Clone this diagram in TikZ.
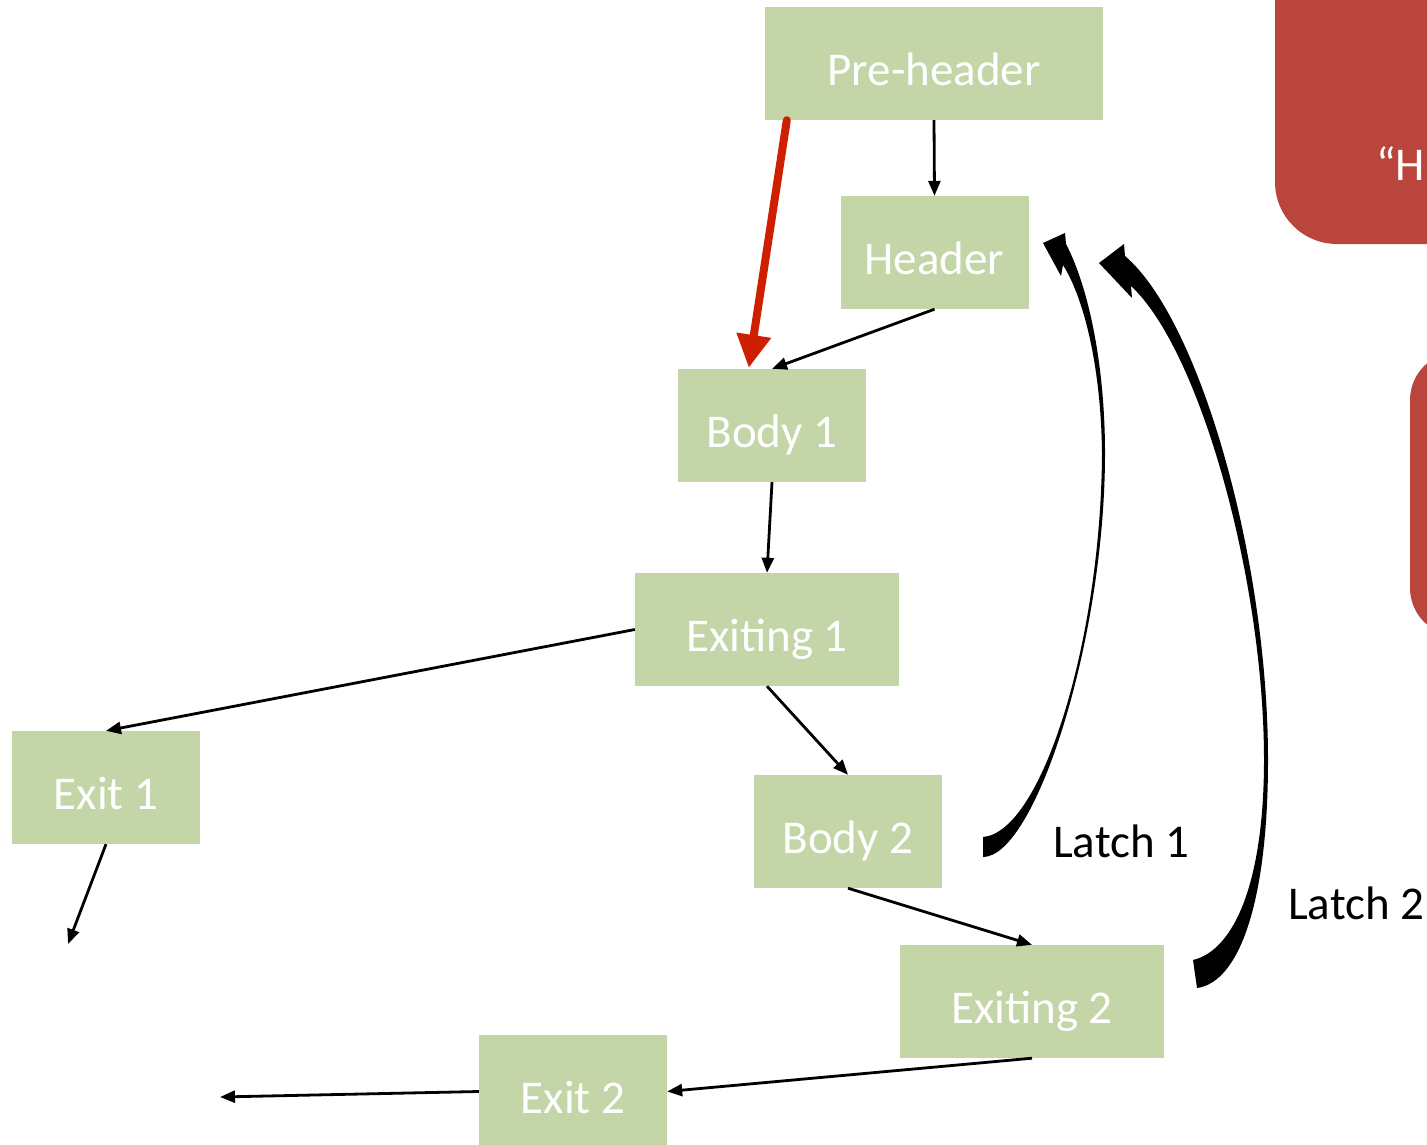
\documentclass[tikz,border=0pt]{standalone}
\usepackage{fontspec}
\setmainfont{Carlito}
\usetikzlibrary{arrows.meta,calc}
\definecolor{boxgreen}{HTML}{C4D5A8}
\definecolor{panelred}{HTML}{B9453C}
\definecolor{entryred}{HTML}{CE1F00}

\begin{document}
\begin{tikzpicture}[x=1pt,y=-1pt,
  block/.style={fill=boxgreen, text=white, minimum width=188pt, minimum height=113pt,
    inner sep=0pt, text height=44pt, text depth=0pt, font=\fontsize{47}{56}\selectfont},
  flow/.style={line width=2.8pt, -{Triangle[length=15pt,width=12pt]}},
  latchtext/.style={font=\fontsize{47}{56}\selectfont, anchor=base west, inner sep=0pt},
  latch/.style={fill=black}]
\useasboundingbox (0,0) rectangle (1427,1145);
\clip (0,0) rectangle (1427,1145);

% side panels
\fill[panelred, rounded corners=62pt] (1275,-80) rectangle (1520,244);
\node[text=white, latchtext] (quote) at (1376,180) {“H};
\fill[panelred, rounded corners=48pt] (1410,352) rectangle (1520,636);

% blocks
\node[block, minimum width=338pt] (pre) at (934,63.5) {Pre-header};
\node[block] (header) at (934.5,252.5) {Header};
\node[block] (body1) at (772,425.5) {Body 1};
\node[block, minimum width=264pt] (exiting1) at (767,629.5) {Exiting 1};
\node[block] (exit1) at (106,787.5) {Exit 1};
\node[block] (body2) at (848,831.5) {Body 2};
\node[block, minimum width=264pt] (exiting2) at (1032,1001.5) {Exiting 2};
\node[block] (exit2) at (573,1091.5) {Exit 2};

% loose ends
\coordinate (out1) at (68,944);
\coordinate (out2) at (220,1097);
\coordinate (redstart) at ($(pre.south west)+(22,0)$);
\coordinate (redend) at ($(body1.north west)+(71,-1)$);

% control flow
\draw[flow] (pre.south) -- (header.north);
\draw[flow] (header.south) -- (body1.north);
\draw[flow] (body1.south) -- (exiting1.north);
\draw[flow] (exiting1.west) -- (exit1.north);
\draw[flow] (exiting1.south) -- (body2.north);
\draw[flow] (exit1.south) -- (out1);
\draw[flow] (body2.south) -- (exiting2.north);
\draw[flow] (exiting2.south) -- (exit2.east);
\draw[flow] (exit2.west) -- (out2);

% loop entry edge
\draw[entryred, line width=8pt, line cap=round, -{Triangle[length=33pt,width=33pt]}] (redstart) -- (redend);

% tapered back edge from Body 2
\fill[latch] (1043,243) -- (1065,233) -- (1066,244)
  .. controls (1090,290) and (1105,370) .. (1105,453)
  .. controls (1105,640) and (1035,857) .. (983,857)
  -- (983,837)
  .. controls (1042,832) and (1101,640) .. (1102,453)
  .. controls (1101,370) and (1085,300) .. (1063,265)
  -- (1061,276) -- cycle;

% tapered back edge from Exiting 2
\fill[latch] (1099,263) -- (1124,244) -- (1125,256)
  .. controls (1200,320) and (1268,560) .. (1268,760)
  .. controls (1268,900) and (1240,982) .. (1197,988)
  -- (1193,960)
  .. controls (1235,950) and (1264,880) .. (1264,760)
  .. controls (1264,580) and (1200,350) .. (1131,286)
  -- (1132,298) -- cycle;

\node[latchtext] (latch1) at (1053,857) {Latch 1};
\node[latchtext] (latch2) at (1288,919) {Latch 2};
\end{tikzpicture}
\end{document}
